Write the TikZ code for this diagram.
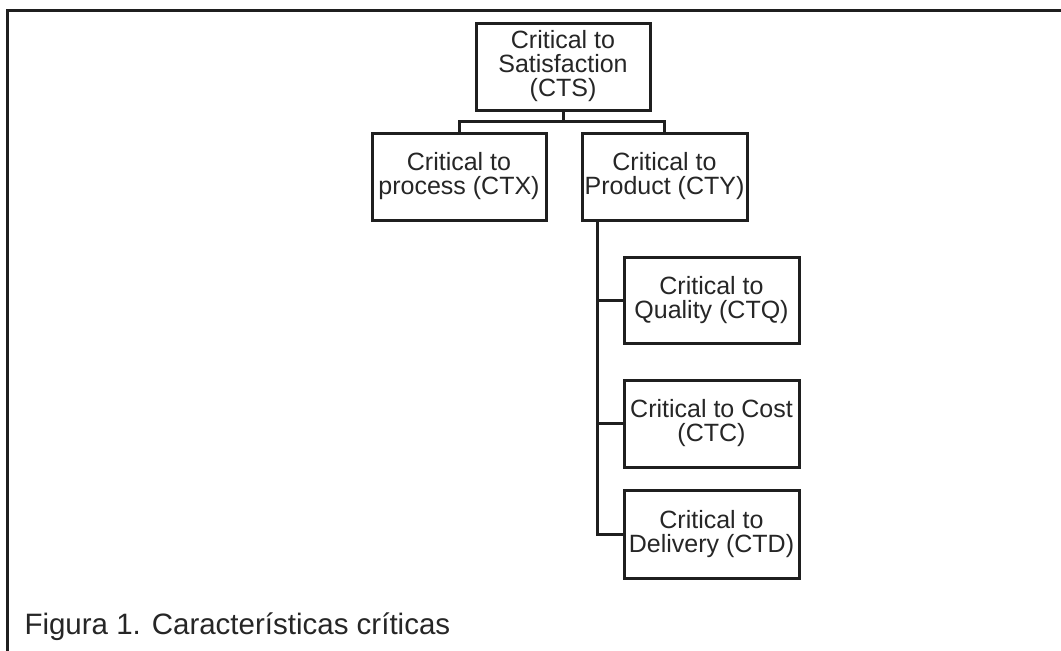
\documentclass[tikz,border=0pt]{standalone}
\usepackage{fontspec}
\setmainfont{Liberation Sans}
\begin{document}
\begin{tikzpicture}[x=1pt,y=-1pt,
  line width=3pt,
  ink/.style={draw=black!88},
  box/.style={ink, fill=white, align=center, inner sep=0pt,
    text=black!85, font={\fontsize{25}{24}\selectfont}},
  wire/.style={ink, line cap=rect},
]
\useasboundingbox (0,0) rectangle (1061,651);
% open frame: top and left edges only
\draw[ink, line width=3pt] (7,651) -- (7,10) -- (1061,10);

% boxes
\node[box, minimum width=174pt, minimum height=87pt] (cts) at (563,66.5) {Critical to\\Satisfaction\\(CTS)};
\node[box, minimum width=174pt, minimum height=87pt] (ctx) at (459,176.5) {Critical to\\process (CTX)};
\node[box, minimum width=165pt, minimum height=87pt] (cty) at (664.5,176.5) {Critical to\\Product (CTY)};
\node[box, minimum width=175pt, minimum height=86pt] (ctq) at (711.5,300) {Critical to\\Quality (CTQ)};
\node[box, minimum width=175pt, minimum height=87pt] (ctc) at (711.5,423.5) {Critical to Cost\\(CTC)};
\node[box, minimum width=175pt, minimum height=88pt] (ctd) at (711.5,534) {Critical to\\Delivery (CTD)};

% connectors
\draw[wire] (cts.south) -- ++(0,10) -| (ctx.north);
\draw[wire] (cts.south) -- ++(0,10) -| (cty.north);
\coordinate (trunk) at ([xshift=17pt]cty.south west);
\draw[wire] (trunk) |- (ctd.west);
\draw[wire] (ctq.west) -- (ctq.west -| trunk);
\draw[wire] (ctc.west) -- (ctc.west -| trunk);

% caption
\node[anchor=base west, inner sep=0pt, text=black!85, font={\fontsize{29.5}{32}\selectfont}] (cap) at (23,634) {Figura 1. Características críticas};
\end{tikzpicture}
\end{document}
